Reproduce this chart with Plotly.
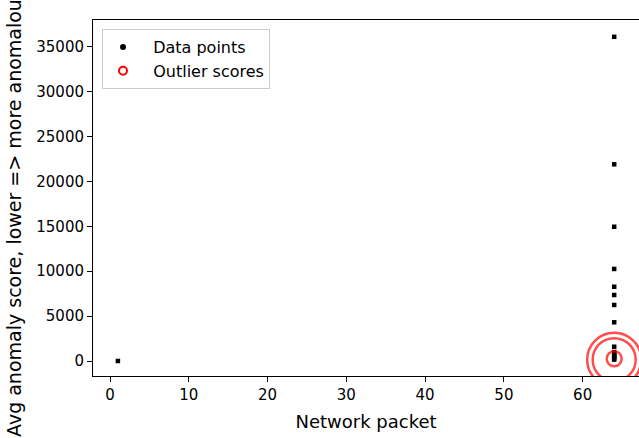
import plotly.graph_objects as go

# Data points (x = network packet index, y = avg anomaly score)
packet_x = [1, 64, 64, 64, 64, 64, 64, 64, 64, 64, 64, 64, 64, 64, 64, 64]
score_y = [0, 36100, 21900, 14950, 10250, 8270, 7350, 6240, 4310, 1590,
           1000, 800, 600, 450, 300, 150]

# Outlier score circles (centre and circle diameter in px)
outlier_x = [64, 64, 64]
outlier_y = [150, 150, 250]
outlier_size = [54, 43, 15]

x_ticks = [0, 10, 20, 30, 40, 50, 60]
y_ticks = [0, 5000, 10000, 15000, 20000, 25000, 30000, 35000]

W, H = 639, 438
L, R, T, B = 93, 0, 20, 62
NB = "\u00a0\u00a0"

fig = go.Figure()
fig.add_trace(go.Scatter(
    x=packet_x, y=score_y, mode="markers", showlegend=False,
    marker=dict(symbol="square", size=4.5, color="black"),
))
fig.add_trace(go.Scatter(
    x=outlier_x, y=outlier_y, mode="markers", showlegend=False,
    marker=dict(symbol="circle-open", size=outlier_size, color="#ff0000",
                line=dict(width=2.5, color="#ff0000")),
))
# legend entries
fig.add_trace(go.Scatter(
    x=[None], y=[None], mode="markers", name=NB + "Data points",
    marker=dict(symbol="circle", size=6, color="black"),
))
fig.add_trace(go.Scatter(
    x=[None], y=[None], mode="markers", name=NB + "Outlier scores",
    marker=dict(symbol="circle-open", size=8, color="#ff0000",
                line=dict(width=2, color="#ff0000")),
))

axis_common = dict(
    showline=True, linecolor="black", linewidth=1, mirror=True,
    ticks="outside", ticklen=5, tickcolor="black", tickwidth=1,
    showgrid=False, zeroline=False,
    tickfont=dict(family="DejaVu Sans", size=15, color="black"),
)

fig.update_xaxes(range=[-2.16, 67.15], tickvals=x_ticks,
                 ticktext=[str(v) for v in x_ticks],
                 title=dict(text="Network packet", standoff=12,
                            font=dict(family="DejaVu Sans", size=18, color="black")),
                 **axis_common)
fig.update_yaxes(range=[-1670, 37970], tickvals=y_ticks,
                 ticktext=[str(v) for v in y_ticks],
                 **axis_common)

fig.add_annotation(
    text="Avg anomaly score, lower => more anomalous",
    xref="paper", yref="paper",
    x=(14 - L) / (W - L - R), y=(H - B - 213) / (H - T - B),
    xanchor="center", yanchor="middle", textangle=-90, showarrow=False,
    font=dict(family="DejaVu Sans", size=19, color="black"),
)

fig.update_layout(
    width=W, height=H,
    margin=dict(l=L, r=R, t=T, b=B, autoexpand=False),
    paper_bgcolor="white", plot_bgcolor="white",
    legend=dict(
        x=(102 - L) / (W - L - R), y=(H - B - 29) / (H - T - B),
        xanchor="left", yanchor="top",
        bgcolor="white", bordercolor="#cccccc", borderwidth=1,
        font=dict(family="DejaVu Sans", size=16, color="black"),
    ),
)

fig.write_html(
    "out.html",
    config={"displayModeBar": False},
    post_script="document.body.style.margin='0';document.body.style.overflow='hidden';",
)
